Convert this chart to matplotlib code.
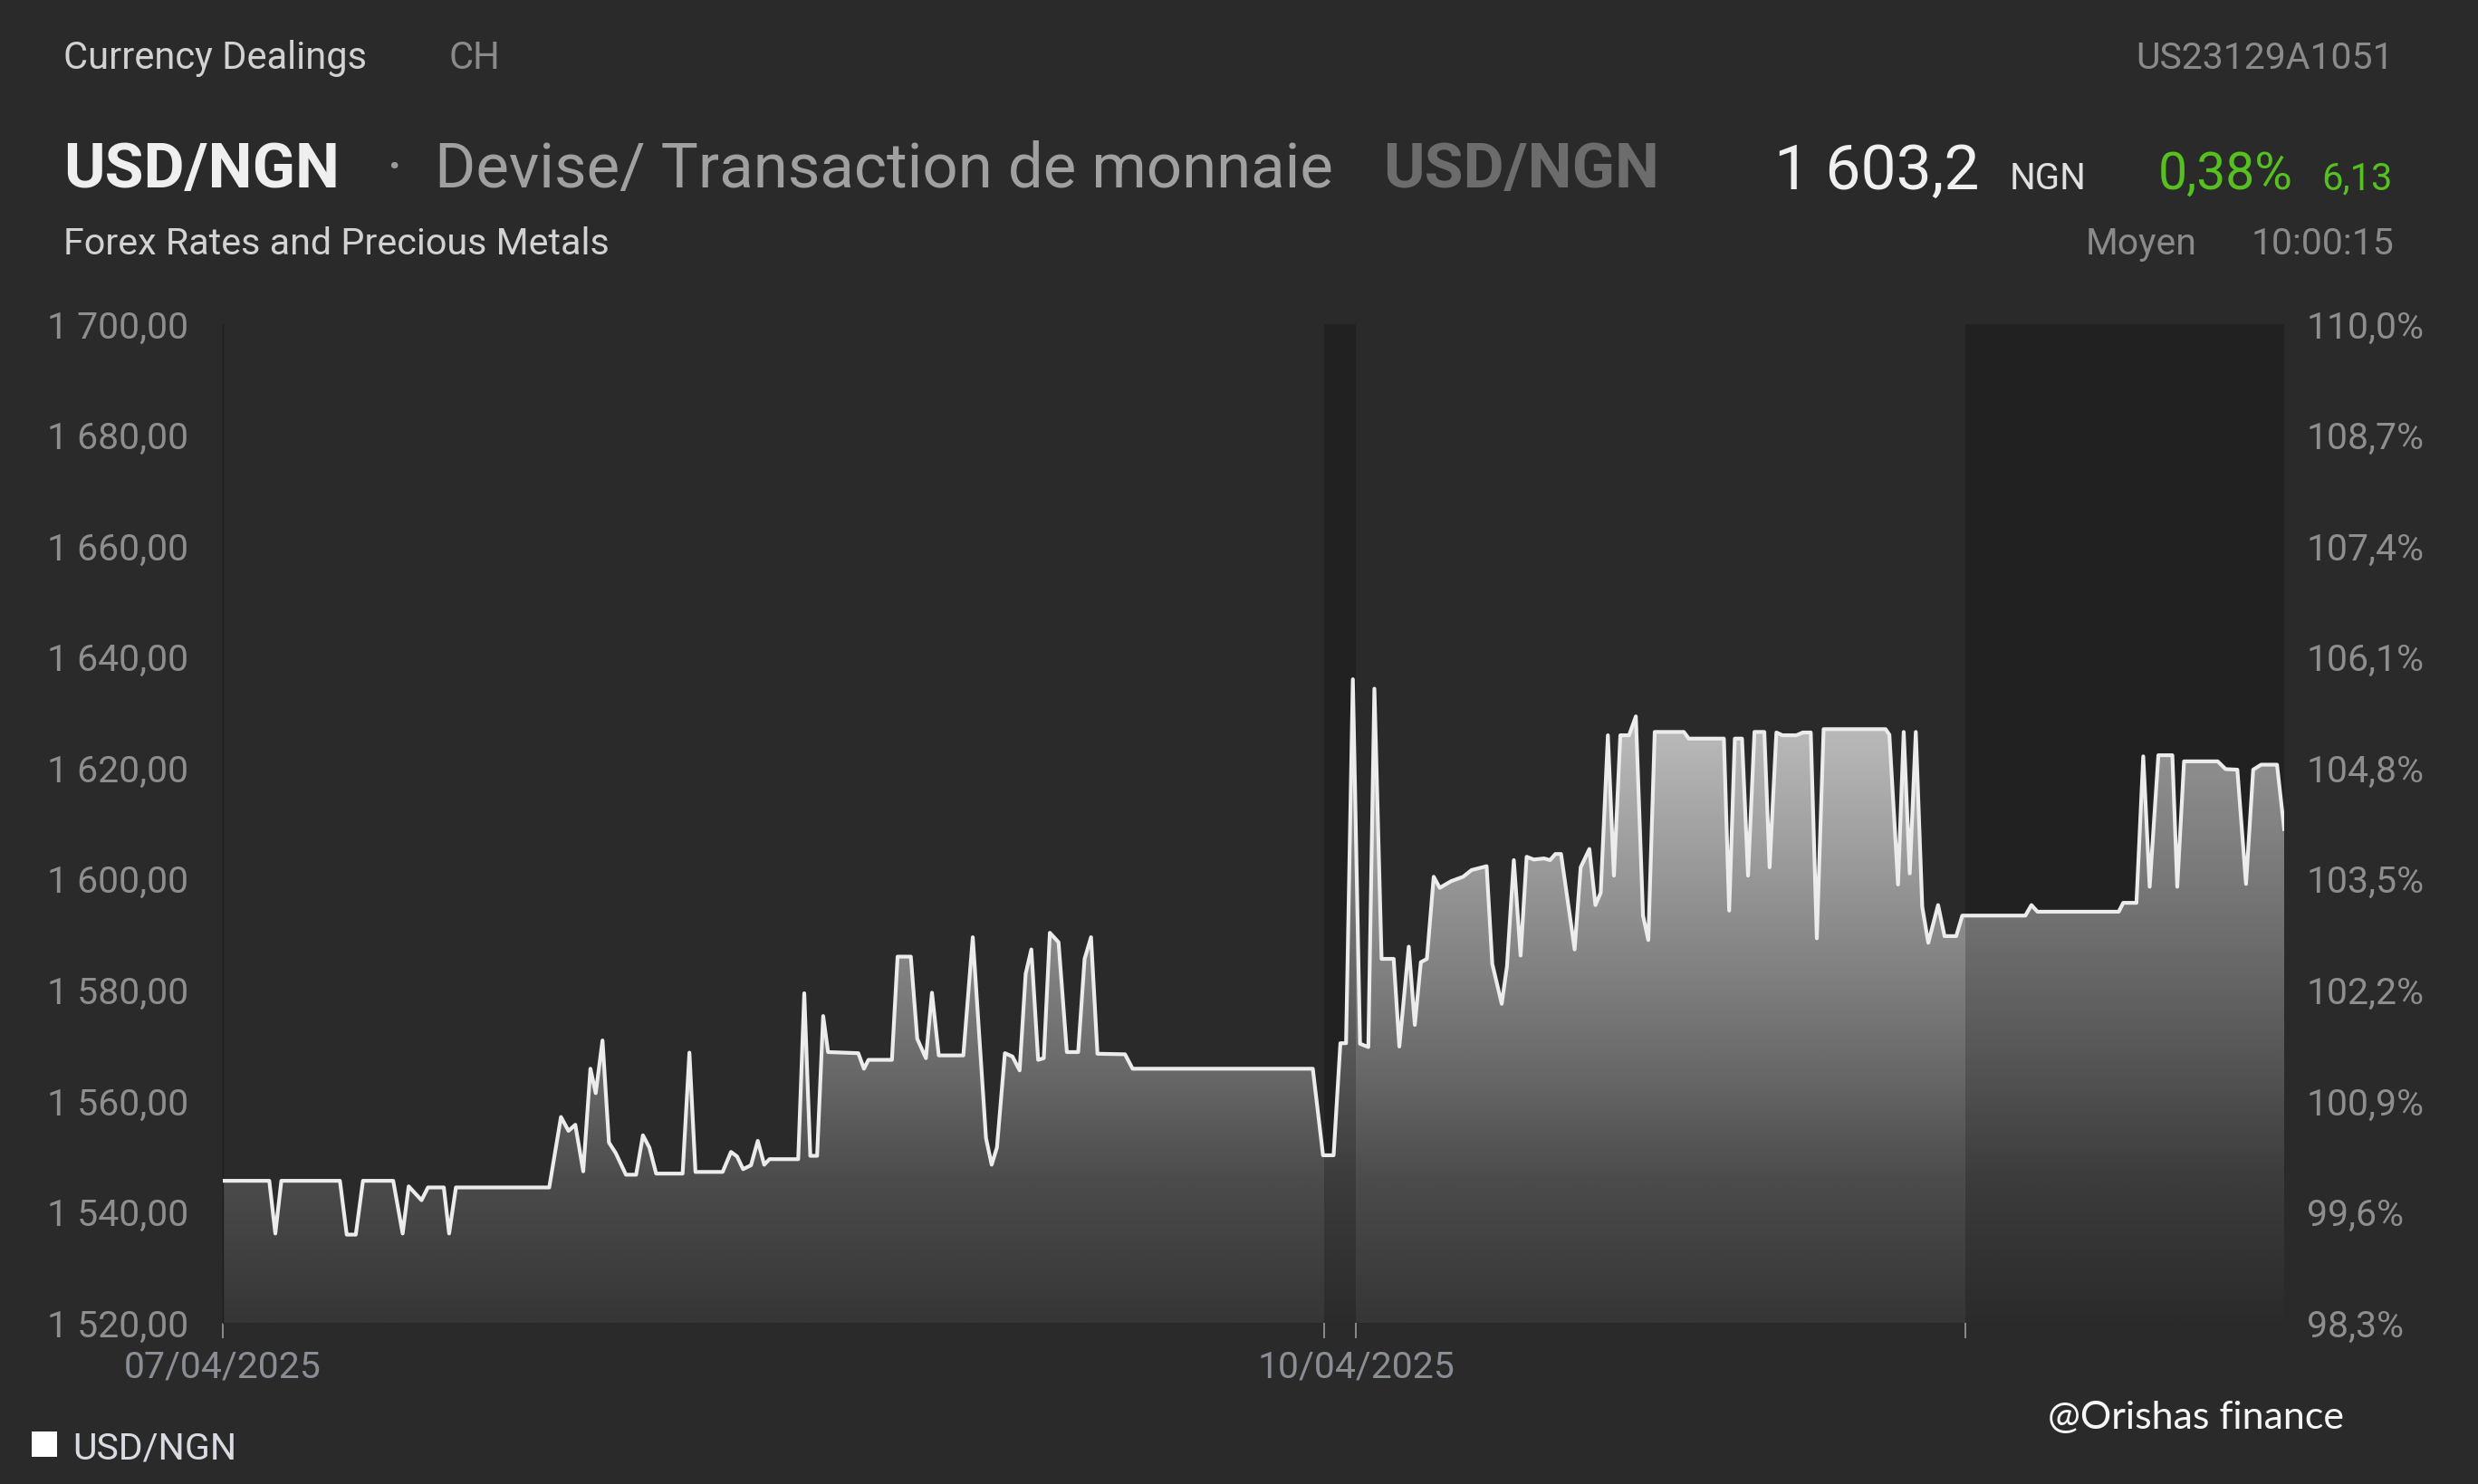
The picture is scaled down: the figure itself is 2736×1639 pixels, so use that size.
import matplotlib
matplotlib.use('Agg')
import matplotlib.pyplot as plt
import numpy as np
from matplotlib.colors import LinearSegmentedColormap
from matplotlib.patches import Rectangle

# time in days from 07/04/2025 00:00, USD/NGN rate
days = [0.000, 0.123, 0.139, 0.155, 0.310, 0.328, 0.352, 0.371, 0.451, 0.476,
        0.492, 0.526, 0.543, 0.585, 0.599, 0.617, 0.864, 0.895, 0.915, 0.933,
        0.954, 0.973, 0.987, 1.005, 1.022, 1.040, 1.067, 1.094, 1.112, 1.129,
        1.147, 1.217, 1.235, 1.251, 1.323, 1.345, 1.361, 1.377, 1.398, 1.416,
        1.433, 1.447, 1.523, 1.539, 1.555, 1.573, 1.589, 1.602, 1.682, 1.697,
        1.709, 1.771, 1.786, 1.821, 1.838, 1.861, 1.877, 1.895, 1.960, 1.985,
        2.020, 2.035, 2.049, 2.070, 2.090, 2.109, 2.125, 2.140, 2.158, 2.173,
        2.189, 2.212, 2.234, 2.264, 2.281, 2.298, 2.315, 2.388, 2.408, 2.885,
        2.912, 2.940, 2.958, 2.973, 2.991, 3.010, 3.032, 3.048, 3.067, 3.099,
        3.114, 3.139, 3.155, 3.171, 3.187, 3.205, 3.221, 3.251, 3.283, 3.305,
        3.345, 3.360, 3.385, 3.399, 3.417, 3.435, 3.451, 3.470, 3.497, 3.513,
        3.527, 3.542, 3.578, 3.594, 3.617, 3.633, 3.647, 3.666, 3.682, 3.699,
        3.722, 3.740, 3.759, 3.773, 3.790, 3.867, 3.880, 3.973, 3.987, 4.002,
        4.021, 4.037, 4.054, 4.080, 4.094, 4.112, 4.128, 4.165, 4.182, 4.203,
        4.219, 4.237, 4.401, 4.411, 4.434, 4.449, 4.465, 4.481, 4.498, 4.514,
        4.540, 4.557, 4.588, 4.604, 4.771, 4.787, 4.803, 5.018, 5.030, 5.065,
        5.083, 5.100, 5.123, 5.160, 5.173, 5.191, 5.280, 5.301, 5.332, 5.355,
        5.374, 5.395, 5.437, 5.456]
rates = [1545.6, 1545.6, 1536.1, 1545.6, 1545.6, 1535.9, 1535.9, 1545.6, 1545.6, 1536.1,
         1544.6, 1542.1, 1544.4, 1544.4, 1536.1, 1544.4, 1544.4, 1557.1, 1554.6, 1555.7,
         1547.3, 1565.8, 1561.4, 1570.9, 1552.5, 1550.6, 1546.7, 1546.7, 1553.8, 1551.6,
         1546.9, 1546.9, 1568.7, 1547.2, 1547.2, 1550.8, 1550.0, 1547.7, 1548.4, 1552.8,
         1548.5, 1549.5, 1549.5, 1579.4, 1550.1, 1550.1, 1575.3, 1568.8, 1568.6, 1565.8,
         1567.4, 1567.4, 1586.0, 1586.0, 1571.2, 1567.7, 1579.5, 1568.2, 1568.2, 1589.5,
         1553.3, 1548.5, 1551.6, 1568.6, 1568.0, 1565.5, 1582.9, 1587.3, 1567.4, 1567.7,
         1590.3, 1588.6, 1568.8, 1568.8, 1585.6, 1589.5, 1568.5, 1568.4, 1565.8, 1565.8,
         1550.2, 1550.2, 1570.4, 1570.4, 1636.0, 1570.3, 1569.7, 1634.3, 1585.6, 1585.6,
         1569.8, 1587.8, 1573.7, 1585.0, 1585.6, 1600.4, 1598.4, 1599.6, 1600.4, 1601.6,
         1602.3, 1584.7, 1577.5, 1584.3, 1603.4, 1586.2, 1604.0, 1603.5, 1603.7, 1603.4,
         1604.5, 1604.5, 1587.3, 1602.1, 1605.4, 1595.3, 1597.5, 1625.9, 1600.6, 1625.9,
         1625.9, 1629.3, 1593.4, 1589.0, 1626.5, 1626.5, 1625.3, 1625.3, 1594.3, 1625.3,
         1625.3, 1600.6, 1626.5, 1626.5, 1602.1, 1626.4, 1625.9, 1625.9, 1626.4, 1626.4,
         1589.3, 1627.0, 1627.0, 1626.0, 1599.0, 1626.5, 1601.0, 1626.5, 1595.0, 1588.5,
         1595.3, 1589.7, 1589.7, 1593.4, 1593.4, 1595.3, 1594.1, 1594.1, 1595.7, 1595.7,
         1622.1, 1598.6, 1622.3, 1622.3, 1598.6, 1621.2, 1621.2, 1619.8, 1619.7, 1599.1,
         1619.7, 1620.6, 1620.6, 1609.0]

date_ticks = [0.0, 3.0]
date_labels = ['07/04/2025', '10/04/2025']
session_marks = [2.916, 4.611]
closed_spans = [(2.916, 3.0), (4.611, 5.456)]
price_ticks = [1520, 1540, 1560, 1580, 1600, 1620, 1640, 1660, 1680, 1700]

W, H = 2736, 1639
BG = '#2a2a2a'
FONT = 'Roboto'

fig = plt.figure(figsize=(W / 100, H / 100), dpi=100, facecolor=BG)
ax = fig.add_axes([246 / W, 178 / H, (2522 - 246) / W, (1461 - 358) / H])
ax.set_facecolor(BG)

ymin, ymax = price_ticks[0], price_ticks[-1]

# vertical grey gradient under the line
stops = [(0.0, '#363636'), (0.14, '#4b4b4b'), (0.25, '#686868'),
         (0.39, '#8a8a8a'), (0.61, '#bdbdbd'), (1.0, '#d2d2d2')]
cmap = LinearSegmentedColormap.from_list('fillgrad', stops)
grad = np.linspace(0, 1, 512).reshape(-1, 1)
area = ax.fill_between(days, rates, ymin, facecolor='none', edgecolor='none')
im = ax.imshow(grad, extent=[days[0], days[-1], ymin, ymax], origin='lower',
               aspect='auto', cmap=cmap, zorder=1, interpolation='bilinear')
im.set_clip_path(area.get_paths()[0], transform=ax.transData)

for a, b in closed_spans:
    ax.axvspan(a, b, color='black', alpha=0.2, lw=0, zorder=2)

ax.plot(days, rates, color='#ececec', lw=3.0, zorder=3, solid_joinstyle='round')

ax.set_xlim(days[0], days[-1])
ax.set_ylim(ymin, ymax)

for s in ax.spines.values():
    s.set_visible(False)
ax.spines['left'].set_visible(True)
ax.spines['left'].set_color('#1e1e1e')
ax.spines['left'].set_linewidth(1.0)

ax.set_yticks(price_ticks)
ax.set_yticklabels([f"{p:,.2f}".replace(',', ' ').replace('.', ',') for p in price_ticks],
                   family=FONT, fontsize=29.5, color='#8e8e8e')
ax.tick_params(axis='y', length=0, pad=27)

ax.set_xticks(date_ticks + session_marks)
ax.set_xticklabels(date_labels + [''] * len(session_marks),
                   family=FONT, fontsize=29.5, color='#8a8e94')
ax.tick_params(axis='x', direction='out', length=12.5, width=1.4,
               color='#8a8a8a', pad=9)

base = rates[0]
ax2 = ax.twinx()
ax2.set_ylim(ymin / base * 100, ymax / base * 100)
pct = [p / base * 100 for p in price_ticks]
ax2.set_yticks(pct)
ax2.set_yticklabels([f"{v:.1f}%".replace('.', ',') for v in pct],
                    family=FONT, fontsize=29.5, color='#8e8e8e')
ax2.tick_params(axis='y', length=0, pad=18)
for s in ax2.spines.values():
    s.set_visible(False)


def put(px, py, s, **kw):
    kw.setdefault('family', FONT)
    fig.text(px / W, 1 - py / H, s, va='baseline', **kw)


put(70, 76, 'Currency Dealings', fontsize=30, color='#d2d2d2')
put(495, 76, 'CH', fontsize=30, color='#8a8a8a')
put(2643, 76, 'US23129A1051', fontsize=29.5, color='#8a8a8a', ha='right')

put(70, 207, 'USD/NGN', fontsize=50, color='#efefef', weight='bold')
put(435, 207, '·', fontsize=49, color='#9a9a9a', ha='center')
put(480, 207, 'Devise/ Transaction de monnaie', fontsize=49.7, color='#a0a0a0')
put(1527, 207, 'USD/NGN', fontsize=50, color='#6c6c6c', weight='bold')
put(1959, 209, '1 603,2', fontsize=50, color='#f0f0f0')
put(2219, 209, 'NGN', fontsize=29, color='#e0e0e0')
put(2383, 209, '0,38%', fontsize=41, color='#55c020')
put(2642, 209, '6,13', fontsize=30, color='#55c020', ha='right')

put(70, 281, 'Forex Rates and Precious Metals', fontsize=29.7, color='#d2d2d2')
put(2303, 281, 'Moyen', fontsize=29.5, color='#8a8a8a')
put(2643, 281, '10:00:15', fontsize=29.5, color='#8a8a8a', ha='right')

put(2261, 1578, '@Orishas finance', fontsize=31, color='#f5f5f5', family='Lato')

fig.patches.append(Rectangle((35 / W, 1 - 1609 / H), 28 / W, 28 / H,
                             transform=fig.transFigure, facecolor='white',
                             edgecolor='none'))
put(80, 1611, 'USD/NGN', fontsize=29.5, color='#d8dce2')

fig.savefig('out.png', dpi=100, facecolor=BG)
